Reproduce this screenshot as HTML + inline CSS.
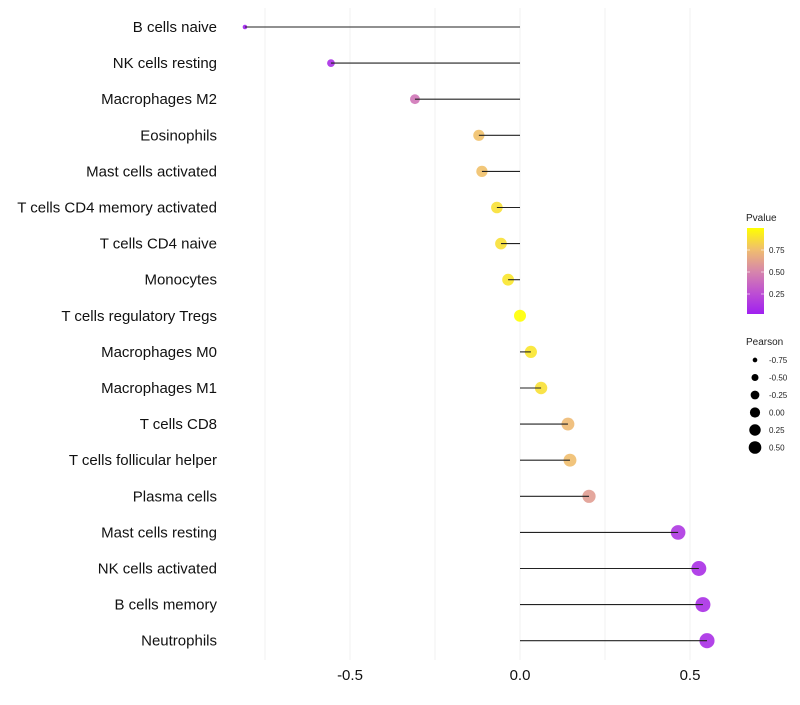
<!DOCTYPE html>
<html><head><meta charset="utf-8"><style>
body{margin:0;background:#fff;font-family:"Liberation Sans",sans-serif}
svg text{font-family:"Liberation Sans",sans-serif}
</style></head><body>
<svg id="chart" width="800" height="700">
<g id="grid"></g><g id="marks"></g><g id="labels"></g><g id="legend"></g>
</svg>
<script>
const categories=["B cells naive","NK cells resting","Macrophages M2","Eosinophils","Mast cells activated","T cells CD4 memory activated","T cells CD4 naive","Monocytes","T cells regulatory  Tregs ","Macrophages M0","Macrophages M1","T cells CD8","T cells follicular helper","Plasma cells","Mast cells resting","NK cells activated","B cells memory","Neutrophils"];
const pearson=[-0.809,-0.556,-0.309,-0.121,-0.112,-0.068,-0.056,-0.035,0.0,0.032,0.062,0.141,0.147,0.203,0.465,0.526,0.538,0.55];
const pvalue=[0.0,0.08,0.42,0.76,0.76,0.88,0.88,0.9,1.0,0.9,0.88,0.73,0.75,0.6,0.12,0.08,0.08,0.08];
const xTicks=[-0.5,0,0.5];
const xTickLabels=["-0.5","0.0","0.5"];
const minorGrid=[-0.75,-0.25,0.25];
const pTicks=[0.25,0.5,0.75];
const sizeTicks=[-0.75,-0.5,-0.25,0,0.25,0.5];
const NS="http://www.w3.org/2000/svg";
const xs=v=>520+v*340;
const ys=i=>27+i*36.1;
const rs=v=>Math.sqrt(Math.max(2.5,36+38*v));
const stops=[[0,[160,32,240]],[0.25,[190,80,210]],[0.5,[215,135,170]],[0.75,[240,190,110]],[1,[255,255,0]]];
function col(p){for(let k=1;k<stops.length;k++){if(p<=stops[k][0]){const a=stops[k-1],b=stops[k],t=(p-a[0])/(b[0]-a[0]);return "rgb("+a[1].map((c,j)=>Math.round(c+(b[1][j]-c)*t)).join(",")+")";}}return "rgb(255,255,0)";}
function mk(t,at,par){const e=document.createElementNS(NS,t);for(const k in at)e.setAttribute(k,at[k]);document.getElementById(par).appendChild(e);return e;}
xTicks.concat(minorGrid).forEach(v=>{const l=mk("line",{x1:xs(v),x2:xs(v),y1:8,y2:660,stroke:"#f0f0f0","stroke-width":1},"grid");

});
xTicks.forEach((v,i)=>{const t=mk("text",{x:xs(v),y:680,"text-anchor":"middle","font-size":15,fill:"#111"},"labels");t.textContent=xTickLabels[i];

});
categories.forEach((c,i)=>{
const t=mk("text",{x:217,y:ys(i)+5,"text-anchor":"end","font-size":15,fill:"#111"},"labels");t.textContent=c;


const p=mk("circle",{cx:xs(pearson[i]),cy:ys(i),r:rs(pearson[i]),fill:col(pvalue[i]),"fill-opacity":0.9},"marks");


const l=mk("line",{x1:xs(0),x2:xs(pearson[i]),y1:ys(i),y2:ys(i),stroke:"#222","stroke-width":1.1},"marks");


});
const lt=mk("text",{x:746,y:221,"font-size":10,fill:"#222"},"legend");lt.textContent="Pvalue";


const defs=mk("defs",{},"legend");
const g=document.createElementNS(NS,"linearGradient");g.setAttribute("id","pg");g.setAttribute("x1","0");g.setAttribute("y1","1");g.setAttribute("x2","0");g.setAttribute("y2","0");defs.appendChild(g);
stops.forEach(s=>{const st=document.createElementNS(NS,"stop");st.setAttribute("offset",s[0]);st.setAttribute("stop-color",col(s[0]));g.appendChild(st);});
const cb=mk("rect",{x:747,y:228,width:17,height:86,fill:"url(#pg)"},"legend");


pTicks.forEach(v=>{const y=316-v*88;
mk("line",{x1:747,x2:750,y1:y,y2:y,stroke:"#fff","stroke-opacity":0.6},"legend");
mk("line",{x1:761,x2:764,y1:y,y2:y,stroke:"#fff","stroke-opacity":0.6},"legend");
const t=mk("text",{x:769,y:y+3,"font-size":8,fill:"#222"},"legend");t.textContent=v.toFixed(2);

});
const st2=mk("text",{x:746,y:345,"font-size":10,fill:"#222"},"legend");st2.textContent="Pearson";


sizeTicks.forEach((v,i)=>{const y=360+i*17.5;
const c=mk("circle",{cx:755,cy:y,r:rs(v)*0.85,fill:"#000"},"legend");


const t=mk("text",{x:769,y:y+3,"font-size":8,fill:"#222"},"legend");t.textContent=v.toFixed(2);

});
</script>
</body></html>
